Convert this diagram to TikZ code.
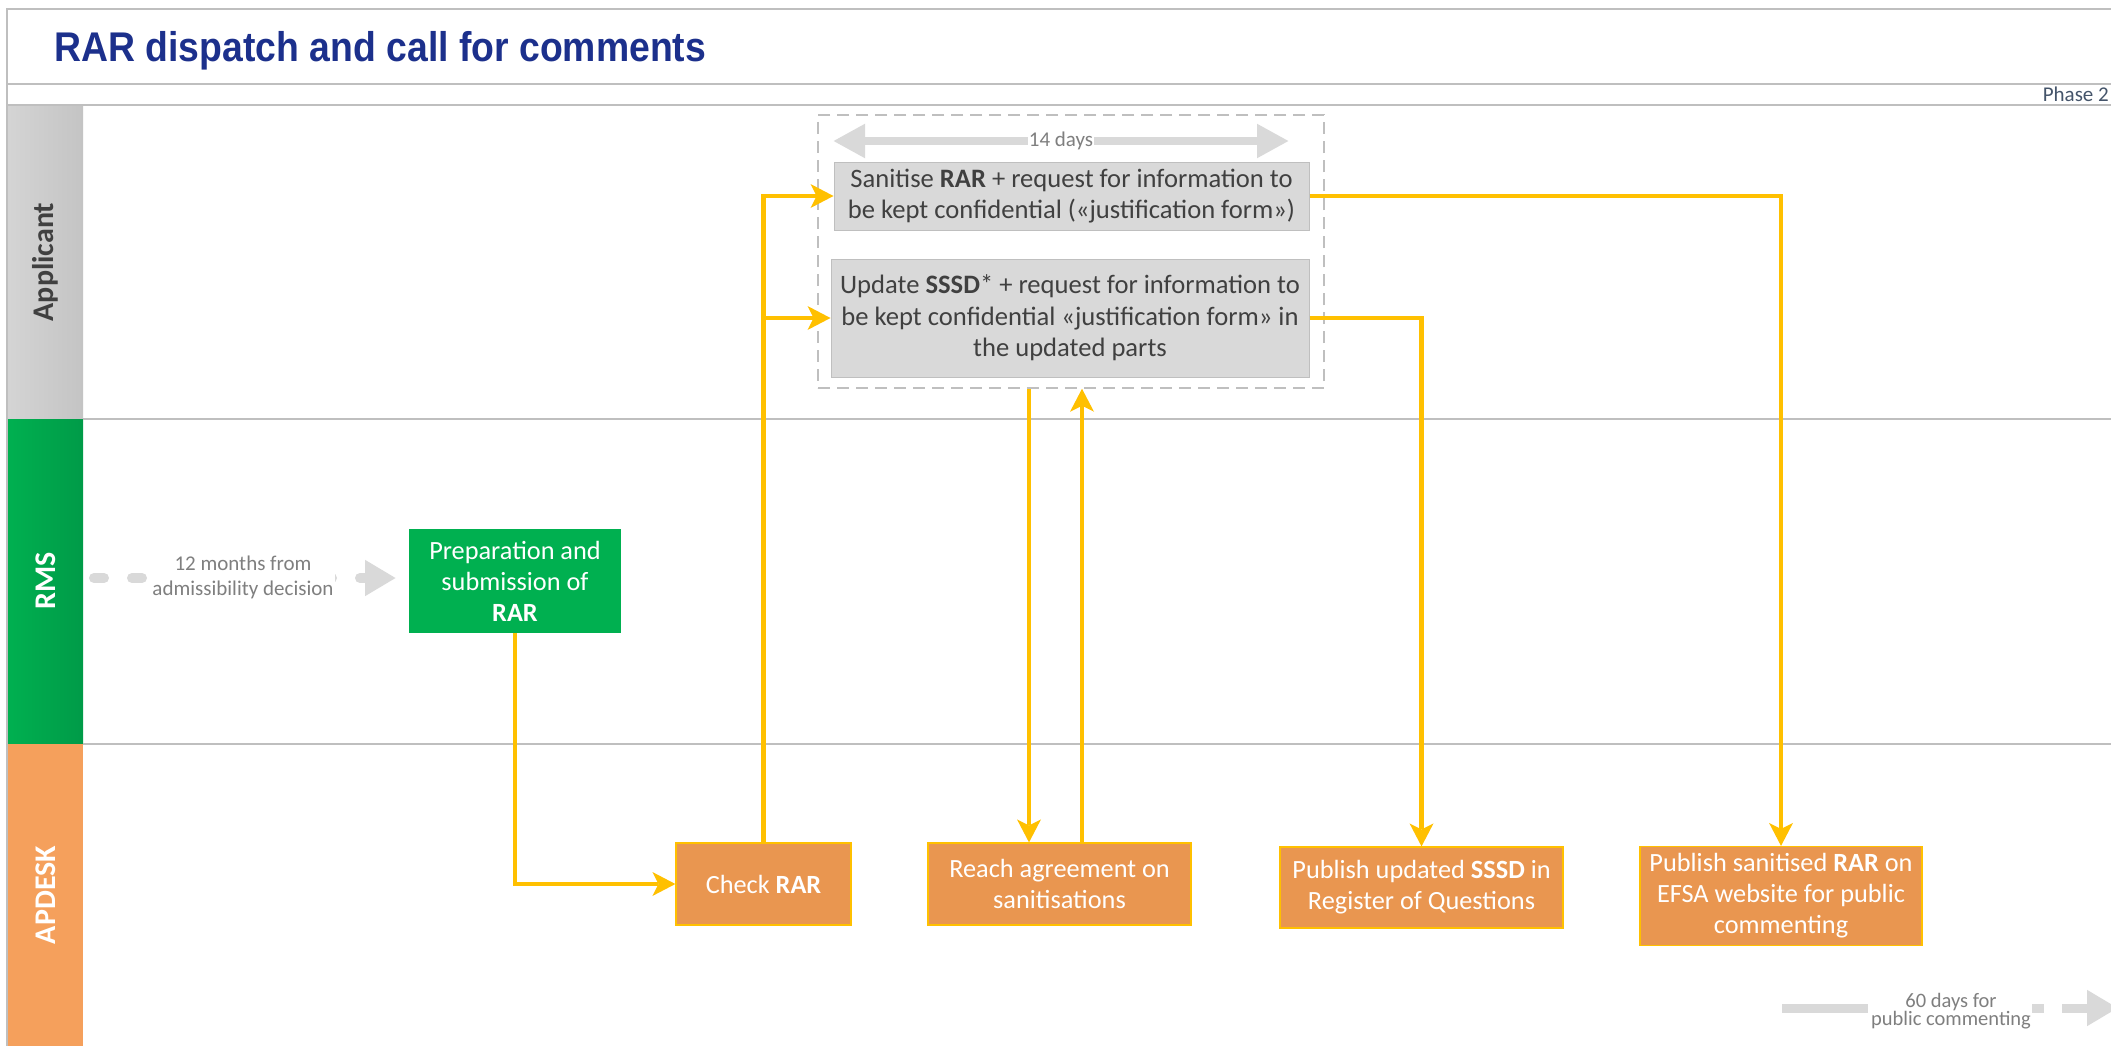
\documentclass[tikz,border=0pt]{standalone}
\usepackage{fontspec}
\setmainfont{Carlito}
\newfontfamily\titlefont[FakeStretch=0.9]{Liberation Sans}
\usetikzlibrary{arrows.meta}
\definecolor{framegray}{RGB}{191,191,191}
\definecolor{boxgray}{RGB}{217,217,217}
\definecolor{textgray}{RGB}{64,64,64}
\definecolor{notegray}{RGB}{127,127,127}
\definecolor{titleblue}{RGB}{28,48,140}
\definecolor{phaseblue}{RGB}{68,84,106}
\definecolor{flowyellow}{RGB}{255,192,0}
\definecolor{rmsgreen}{RGB}{0,176,80}
\definecolor{rmsdark}{RGB}{0,155,72}
\definecolor{deskorange}{RGB}{233,150,80}
\definecolor{lanegray}{RGB}{212,212,212}
\definecolor{lanegraydark}{RGB}{196,196,196}
\definecolor{laneorange}{RGB}{245,160,92}
\begin{document}
\begin{tikzpicture}[x=1pt,y=-1pt]
    \tikzstyle{graybox}=[draw=framegray,line width=1pt,fill=boxgray,text=textgray,align=center,inner sep=0pt,font=\fontsize{26.6}{31.5}\selectfont]
    \tikzstyle{greenbox}=[fill=rmsgreen,text=white,align=center,inner sep=0pt,font=\fontsize{26.3}{31}\selectfont]
    \tikzstyle{orangebox}=[draw=flowyellow,line width=1.2pt,fill=deskorange,text=white,align=center,inner sep=0pt,font=\fontsize{26.3}{31}\selectfont]
    \tikzstyle{note}=[fill=white,text=notegray,align=center,inner sep=1pt]
    \tikzstyle{lanelabel}=[rotate=90,font=\bfseries\fontsize{30}{36}\selectfont]
    \tikzstyle{flow}=[draw=flowyellow,line width=4.5pt,-{Stealth[length=23pt,width=24pt,inset=6pt,line width=0pt]}]
    \tikzstyle{span}=[draw=boxgray,line width=8pt]
    \useasboundingbox (0,0) rectangle (2111,1046);
    % frame and lanes
    \fill[white] (0,0) rectangle (2111,1046);
    \shade[left color=lanegray,right color=lanegraydark] (8,105) rectangle (83,419);
    \shade[left color=rmsgreen,right color=rmsdark] (8,419) rectangle (83,744);
    \fill[laneorange] (8,744) rectangle (83,1050);
    \draw[framegray,line width=2pt] (7,1050) -- (7,9) -- (2120,9);
    \draw[framegray,line width=2pt] (7,84) -- (2120,84);
    \draw[framegray,line width=2pt] (7,105) -- (2120,105);
    \draw[framegray,line width=1.5pt] (83,419) -- (2120,419);
    \draw[framegray,line width=1.5pt] (83,744) -- (2120,744);
    \node (title)[anchor=base west,text=titleblue,font=\titlefont\fontsize{41.5}{50}\selectfont\bfseries] at (51,62) {RAR dispatch and call for comments};
    \node (phase)[anchor=east,text=phaseblue,inner sep=1pt,font=\fontsize{21}{25}\selectfont] at (2110,94) {Phase 2};
    \node (applicant)[lanelabel,text=textgray] at (45.5,262) {Applicant};
    \node (rms)[lanelabel,text=white] at (45.5,581) {RMS};
    \node (apdesk)[lanelabel,text=white] at (45.5,895) {APDESK};
    % applicant boxes
    \node (grp)[draw=framegray,dash pattern=on 12pt off 7pt,line width=1.5pt,minimum width=506pt,minimum height=273pt] at (1071,251.5) {};
    \node (sanit)[graybox,minimum width=475pt,minimum height=68pt] at (1071.5,196) {Sanitise \textbf{RAR} + request for information to\\be kept confidential («justification form»)};
    \node (update)[graybox,minimum width=478pt,minimum height=118pt] at (1070,318) {Update \textbf{SSSD}* + request for information to\\be kept confidential «justification form» in\\the updated parts};
    \coordinate (d14a) at (833,141);
    \coordinate (d14b) at (1289,141);
    \draw[span,{Triangle[length=32pt,width=32pt]}-{Triangle[length=32pt,width=32pt]}] (d14a) -- (d14b);
    \node (d14)[note,font=\fontsize{21}{25}\selectfont] at (1061,141) {14 days};
    % rms
    \node (prep)[greenbox,minimum width=212pt,minimum height=104pt] at (515,581) {Preparation and\\submission of\\\textbf{RAR}};
    \coordinate (m12a) at (94,578);
    \coordinate (m12b) at (396,578);
    \draw[span,line width=10pt,line cap=round,dash pattern=on 10pt off 28pt,-{Triangle[length=31pt,width=34pt]}] (m12a) -- (m12b);
    \node (m12)[note,font=\fontsize{21}{25}\selectfont] at (243,577) {12 months from\\admissibility decision};
    % apdesk boxes
    \node (check)[orangebox,minimum width=175pt,minimum height=82pt] at (763.5,884) {Check \textbf{RAR}};
    \node (agree)[orangebox,minimum width=263pt,minimum height=82pt] at (1059.5,884) {Reach agreement on\\sanitisations};
    \node (pubsssd)[orangebox,minimum width=283pt,minimum height=81pt] at (1421.5,887.5) {Publish updated \textbf{SSSD} in\\Register of Questions};
    \node (pubrar)[orangebox,minimum width=282pt,minimum height=99pt] at (1781,896) {Publish sanitised \textbf{RAR} on\\EFSA website for public\\commenting};
    \coordinate (d60a) at (1782,1008);
    \coordinate (d60b) at (2118,1008);
    \draw[span,line width=9pt,dash pattern=on 86pt off 18pt on 18pt off 18pt,-{Triangle[length=31pt,width=34pt]}] (d60a) -- (d60b);
    \node (d60)[note,font=\fontsize{20.5}{17}\selectfont] at (1951,1011) {60 days for\\public commenting};
    % flows
    \draw[flow] (prep.south) |- (check.west);
    \draw[flow] (check.north) |- (sanit.west);
    \draw[flow] (check.north) |- (update.west);
    \draw[flow] ([xshift=-30.5pt]agree.north |- grp.south) -- ([xshift=-30.5pt]agree.north);
    \draw[flow] ([xshift=22.5pt]agree.north) -- ([xshift=22.5pt]agree.north |- grp.south);
    \draw[flow] (sanit.east) -| (pubrar.north);
    \draw[flow] (update.east) -| (pubsssd.north);
\end{tikzpicture}
\end{document}
